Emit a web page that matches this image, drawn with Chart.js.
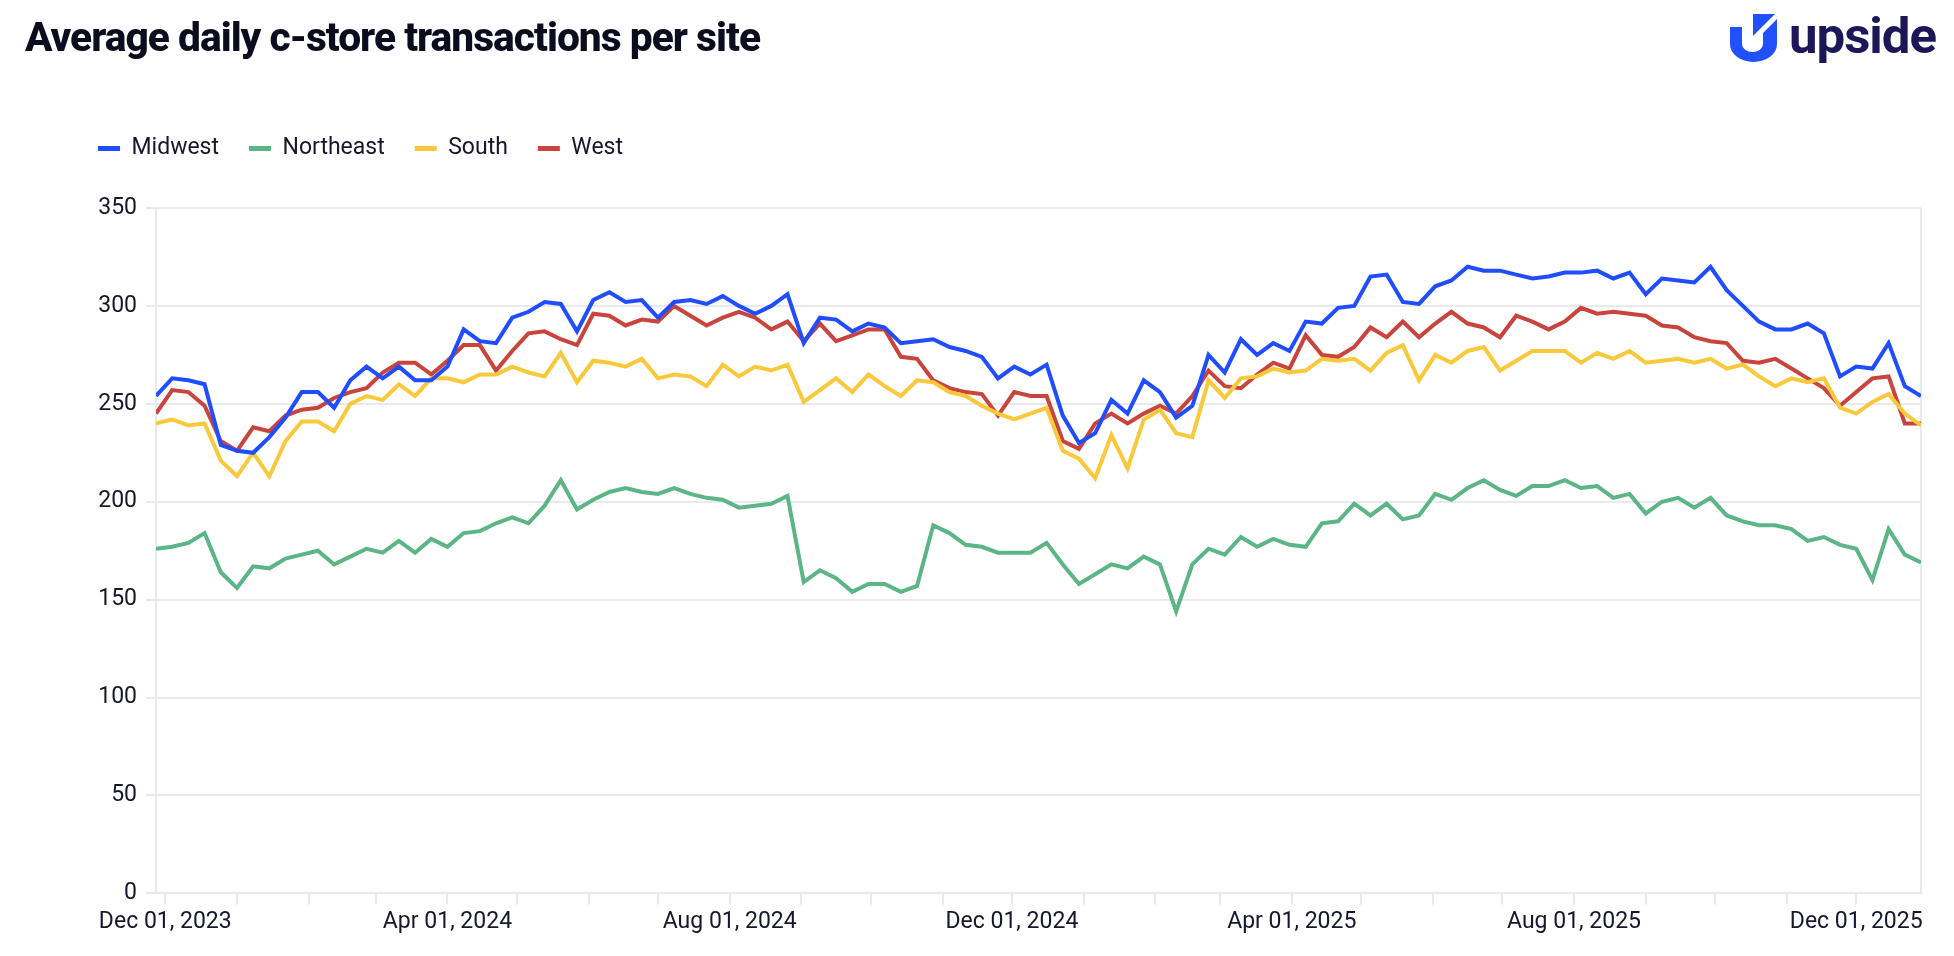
<!DOCTYPE html>
<html>
<head>
<meta charset="utf-8">
<title>Average daily c-store transactions per site</title>
<script src="https://cdn.jsdelivr.net/npm/chart.js@4.4.1/dist/chart.umd.min.js"></script>
<style>
    html, body { margin: 0; padding: 0; background: #fff; }
    body { width: 1954px; height: 956px; position: relative; overflow: hidden; font-family: Roboto, "Noto Sans", sans-serif; }
    #title { position: absolute; left: 25px; top: 17px; font-size: 41px; font-weight: 800; line-height: 1; color: #0c0c1f; letter-spacing: -1px; white-space: nowrap; transform-origin: 0 0; }
    #logo-icon { position: absolute; left: 1730px; top: 14px; width: 47px; height: 48px; }
    #logo-text { position: absolute; left: 1789px; top: 11px; font-size: 50px; font-weight: 700; line-height: 1; color: #1c1858; letter-spacing: -1px; white-space: nowrap; transform-origin: 0 0; }
    #chart-wrap { position: absolute; left: 0; top: 0; width: 1954px; height: 956px; }
</style>
</head>
<body>
<div id="chart-wrap"><canvas id="line-chart"></canvas></div>
<div id="title">Average daily c-store transactions per site</div>
<svg id="logo-icon" viewBox="0 0 47 48">
    <path d="M0 13 V30 A23.5 18 0 0 0 47 30 V5 L33 19 V30 A10.5 8 0 0 1 12 30 V13 Z" fill="#2150ff"/>
    <path d="M23 0 H45 L23 22 Z" fill="#2150ff"/>
</svg>
<div id="logo-text">upside</div>
<script>
    // weekly points, first week starts Mon Nov 27, 2023
    const first_week = Date.UTC(2023, 10, 27);
    const week_count = 110;
    const weeks = [];
    for (let i = 0; i < week_count; i++) {
        weeks.push(first_week + i * 7 * 86400000);
    }

    const series_names = ["Midwest", "Northeast", "South", "West"];
    const series_colors = ["#1f4dff", "#5bb585", "#f9c93b", "#c9443c"];

    const midwest_values = [
        254, 263, 262, 260, 229, 226, 225, 233, 243, 256, 256, 248, 262, 269, 263, 269, 262, 262, 269, 288,
        282, 281, 294, 297, 302, 301, 287, 303, 307, 302, 303, 294, 302, 303, 301, 305, 300, 296, 300, 306,
        281, 294, 293, 287, 291, 289, 281, 282, 283, 279, 277, 274, 263, 269, 265, 270, 244, 230, 235, 252,
        245, 262, 256, 243, 249, 275, 266, 283, 275, 281, 277, 292, 291, 299, 300, 315, 316, 302, 301, 310,
        313, 320, 318, 318, 316, 314, 315, 317, 317, 318, 314, 317, 306, 314, 313, 312, 320, 308, 300, 292,
        288, 288, 291, 286, 264, 269, 268, 281, 259, 254
    ];
    const northeast_values = [
        176, 177, 179, 184, 164, 156, 167, 166, 171, 173, 175, 168, 172, 176, 174, 180, 174, 181, 177, 184,
        185, 189, 192, 189, 198, 211, 196, 201, 205, 207, 205, 204, 207, 204, 202, 201, 197, 198, 199, 203,
        159, 165, 161, 154, 158, 158, 154, 157, 188, 184, 178, 177, 174, 174, 174, 179, 168, 158, 163, 168,
        166, 172, 168, 144, 168, 176, 173, 182, 177, 181, 178, 177, 189, 190, 199, 193, 199, 191, 193, 204,
        201, 207, 211, 206, 203, 208, 208, 211, 207, 208, 202, 204, 194, 200, 202, 197, 202, 193, 190, 188,
        188, 186, 180, 182, 178, 176, 160, 186, 173, 169
    ];
    const south_values = [
        240, 242, 239, 240, 221, 213, 225, 213, 231, 241, 241, 236, 250, 254, 252, 260, 254, 263, 263, 261,
        265, 265, 269, 266, 264, 276, 261, 272, 271, 269, 273, 263, 265, 264, 259, 270, 264, 269, 267, 270,
        251, 257, 263, 256, 265, 259, 254, 262, 261, 256, 254, 249, 245, 242, 245, 248, 226, 222, 212, 234,
        217, 242, 247, 235, 233, 262, 253, 263, 264, 268, 266, 267, 273, 272, 273, 267, 276, 280, 262, 275,
        271, 277, 279, 267, 272, 277, 277, 277, 271, 276, 273, 277, 271, 272, 273, 271, 273, 268, 270, 264,
        259, 263, 261, 263, 248, 245, 251, 255, 245, 239
    ];
    const west_values = [
        245, 257, 256, 249, 231, 226, 238, 236, 244, 247, 248, 253, 256, 258, 266, 271, 271, 265, 272, 280,
        280, 267, 277, 286, 287, 283, 280, 296, 295, 290, 293, 292, 300, 295, 290, 294, 297, 294, 288, 292,
        282, 291, 282, 285, 288, 288, 274, 273, 262, 258, 256, 255, 244, 256, 254, 254, 231, 227, 240, 245,
        240, 245, 249, 245, 254, 267, 259, 258, 265, 271, 268, 285, 275, 274, 279, 289, 284, 292, 284, 291,
        297, 291, 289, 284, 295, 292, 288, 292, 299, 296, 297, 296, 295, 290, 289, 284, 282, 281, 272, 271,
        273, 268, 263, 258, 249, 256, 263, 264, 240, 240
    ];

    const y_ticks = [0, 50, 100, 150, 200, 250, 300, 350];
    const month_names = ["Jan", "Feb", "Mar", "Apr", "May", "Jun", "Jul", "Aug", "Sep", "Oct", "Nov", "Dec"];
    const labelled_months = [11, 3, 7];

    const month_ticks = [];
    for (let m = 11; m <= 11 + 24; m++) {
        month_ticks.push(Date.UTC(2023 + Math.floor(m / 12), m % 12, 1));
    }

    const text_color = "#16162c";
    const grid_color = "#e9e9f0";

    function toPoints(values) {
        return values.map((v, i) => ({x: weeks[i], y: v}));
    }

    function formatDate(ms) {
        const d = new Date(ms);
        const m = d.getUTCMonth();
        if (labelled_months.indexOf(m) === -1) return "";
        return month_names[m] + " 01, " + d.getUTCFullYear();
    }

    const all_values = [midwest_values, northeast_values, south_values, west_values];
    const datasets = series_names.map((name, k) => ({
        label: name,
        data: toPoints(all_values[k]),
        borderColor: series_colors[k],
        backgroundColor: series_colors[k],
        borderWidth: 4,
        pointRadius: 0,
        tension: 0,
        fill: false
    }));

    // room between legend and plot
    const legendGap = {
        id: "legendGap",
        beforeInit(chart) {
            const fit = chart.legend.fit;
            chart.legend.fit = function () {
                fit.bind(chart.legend)();
                this.height += 38;
            };
        }
    };

    // thin frame on the right side of the plot
    const plotFrame = {
        id: "plotFrame",
        beforeDatasetsDraw(chart) {
            const a = chart.chartArea;
            const ctx = chart.ctx;
            ctx.save();
            ctx.strokeStyle = grid_color;
            ctx.lineWidth = 2;
            ctx.beginPath();
            ctx.moveTo(a.right, a.top);
            ctx.lineTo(a.right, a.bottom);
            ctx.stroke();
            ctx.restore();
        }
    };

    Chart.defaults.font.family = "Roboto, 'Noto Sans', sans-serif";
    Chart.defaults.font.size = 23;
    Chart.defaults.color = text_color;

    const line_chart = new Chart(document.getElementById("line-chart"), {
        type: "line",
        data: {datasets: datasets},
        plugins: [legendGap, plotFrame],
        options: {
            responsive: true,
            maintainAspectRatio: false,
            animation: false,
            layout: {padding: {left: 68, right: 33, top: 107, bottom: 16}},
            plugins: {
                legend: {
                    position: "top",
                    align: "start",
                    labels: {
                        boxWidth: 22,
                        boxHeight: 5,
                        padding: 30,
                        color: text_color,
                        font: {size: 23},
                        generateLabels(chart) {
                            const items = Chart.defaults.plugins.legend.labels.generateLabels(chart);
                            items.forEach(it => { it.lineWidth = 0; });
                            return items;
                        }
                    }
                },
                tooltip: {enabled: false}
            },
            scales: {
                x: {
                    type: "linear",
                    min: weeks[0],
                    max: weeks[weeks.length - 1],
                    afterBuildTicks(scale) {
                        scale.ticks = month_ticks.map(v => ({value: v}));
                    },
                    ticks: {
                        autoSkip: false,
                        maxRotation: 0,
                        padding: 4,
                        color: text_color,
                        callback: function (value) { return formatDate(value); }
                    },
                    grid: {drawOnChartArea: false, drawTicks: true, tickLength: 11, color: grid_color, lineWidth: 2},
                    border: {color: grid_color, width: 2}
                },
                y: {
                    min: 0,
                    max: 350,
                    afterBuildTicks(scale) {
                        scale.ticks = y_ticks.map(v => ({value: v}));
                    },
                    afterFit(scale) { scale.width = 88; },
                    ticks: {padding: 9, color: text_color},
                    grid: {color: grid_color, lineWidth: 2, tickLength: 10},
                    border: {color: grid_color, width: 2}
                }
            }
        }
    });

    function fitWidth(id, target) {
        const el = document.getElementById(id);
        const w = el.getBoundingClientRect().width;
        el.style.transform = "scaleX(" + (target / w) + ")";
    }
    document.fonts.ready.then(function () {
        fitWidth("title", 735);
        fitWidth("logo-text", 147);
    });
</script>
</body>
</html>
